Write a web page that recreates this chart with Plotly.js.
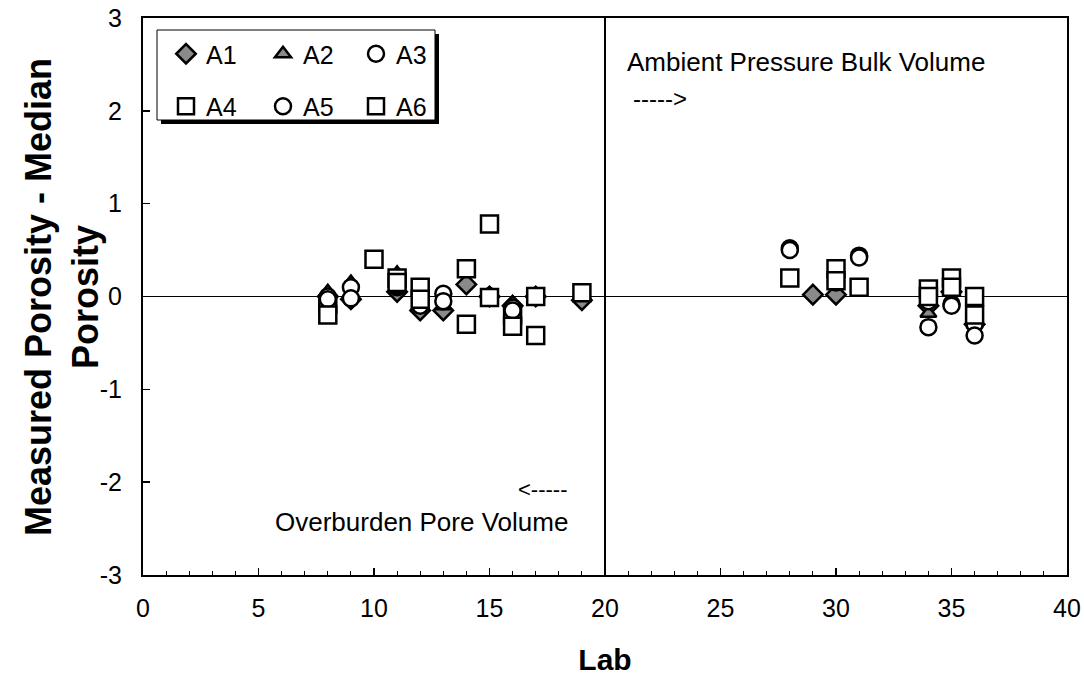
<!DOCTYPE html>
<html>
<head>
<meta charset="utf-8">
<script src="https://cdn.plot.ly/plotly-3.0.1.min.js"></script>
<style>html,body{margin:0;padding:0;background:#fff;}#chart{width:1084px;height:682px;}</style>
</head>
<body>
<div id="chart"></div>
<script>
// Lab numbers
var labs = [8, 9, 10, 11, 12, 13, 14, 15, 16, 17, 19, 28, 29, 30, 31, 34, 35, 36];
// Measured porosity - median porosity for each sample
var a1 = [0.0, -0.03, null, 0.05, -0.15, -0.15, 0.13, 0.0, -0.1, 0.0, -0.04, null, 0.02, 0.02, null, -0.1, 0.05, -0.3];
var a2 = [0.05, 0.15, null, 0.25, -0.1, -0.1, null, 0.02, -0.07, 0.02, null, null, null, 0.15, null, -0.18, 0.05, -0.3];
var a3 = [0.0, 0.1, null, 0.1, -0.05, 0.03, null, 0.0, -0.12, 0.0, null, 0.52, null, 0.17, 0.44, -0.05, -0.08, -0.3];
var a4 = [-0.08, null, 0.4, 0.2, 0.1, null, 0.3, 0.78, -0.2, 0.0, 0.04, 0.2, null, 0.3, 0.1, 0.08, 0.2, 0.0];
var a5 = [-0.03, -0.02, null, 0.12, -0.1, -0.05, null, 0.0, -0.15, null, null, 0.5, null, 0.15, 0.42, -0.33, -0.1, -0.42];
var a6 = [-0.2, null, null, 0.15, -0.03, null, -0.3, -0.01, -0.32, -0.42, null, null, null, 0.17, null, 0.0, 0.1, -0.2];
var seriesNames = ["A1", "A2", "A3", "A4", "A5", "A6"];
var xTicks = [0, 5, 10, 15, 20, 25, 30, 35, 40];
var yTicks = [-3, -2, -1, 0, 1, 2, 3];

var font = "Liberation Sans, Arial, sans-serif";
var styles = {
  A1: {symbol: "diamond", size: 15, fill: "#8a8a8a", legend: "legend", group: "g1"},
  A2: {symbol: "triangle-up", size: 14, fill: "#8a8a8a", legend: "legend2", group: "g2"},
  A3: {symbol: "circle", size: 16, fill: "#ffffff", legend: "legend3", group: "g3"},
  A4: {symbol: "square", size: 17, fill: "#ffffff", legend: "legend", group: "g4"},
  A5: {symbol: "circle", size: 16, fill: "#ffffff", legend: "legend2", group: "g5"},
  A6: {symbol: "square", size: 17, fill: "#ffffff", legend: "legend3", group: "g6"}
};
var values = [a1, a2, a3, a4, a5, a6];
var traces = seriesNames.map(function (n, i) {
  var s = styles[n];
  return {
    x: labs, y: values[i], name: n, type: "scatter", mode: "markers",
    legend: s.legend, legendgroup: s.group,
    marker: {symbol: s.symbol, size: s.size, color: s.fill, line: {color: "#000", width: 2.5}},
    cliponaxis: false
  };
});

function px(x) { return (x - 143) / 924; }
function py(y) { return (575 - y) / 557; }

var legBase = {
  bgcolor: "rgba(0,0,0,0)", borderwidth: 0, orientation: "v",
  font: {family: font, size: 25, color: "#000"}, tracegroupgap: 17,
  xanchor: "left", yanchor: "top", itemwidth: 30
};
function leg(x) { var o = Object.assign({}, legBase); o.x = px(x); o.y = py(31); return o; }

var layout = {
  width: 1084, height: 682,
  margin: {l: 143, r: 17, t: 18, b: 107},
  paper_bgcolor: "#fff", plot_bgcolor: "#fff",
  showlegend: true,
  legend: leg(166),
  legend2: leg(263),
  legend3: leg(356),
  xaxis: {
    range: [0, 40], tickvals: xTicks, ticktext: xTicks.map(String),
    ticks: "inside", ticklen: 7, tickwidth: 1.5, tickcolor: "#000",
    minor: {dtick: 1, ticks: "inside", ticklen: 4, tickwidth: 1, tickcolor: "#000"},
    showgrid: false, zeroline: false, ticklabelstandoff: 10,
    showline: true, linecolor: "#000", linewidth: 2, mirror: true,
    tickfont: {family: font, size: 25, color: "#000"},
    title: {text: "<b>Lab</b>", font: {family: font, size: 30, color: "#000"}, standoff: 28}
  },
  yaxis: {
    range: [-3, 3], tickvals: yTicks, ticktext: yTicks.map(String),
    ticks: "inside", ticklen: 7, tickwidth: 1.5, tickcolor: "#000",
    showgrid: false, zeroline: true, zerolinecolor: "#000", zerolinewidth: 1.5,
    showline: true, linecolor: "#000", linewidth: 2, mirror: true, ticklabelstandoff: 14,
    tickfont: {family: font, size: 25, color: "#000"}
  },
  shapes: [
    {type: "line", xref: "x", yref: "paper", x0: 20, x1: 20, y0: 0, y1: 1, line: {color: "#000", width: 2}},
    {type: "rect", xref: "paper", yref: "paper", x0: px(161), x1: px(439), y0: py(124), y1: py(34),
      fillcolor: "#000", line: {width: 0}, layer: "above"},
    {type: "rect", xref: "paper", yref: "paper", x0: px(157), x1: px(435), y0: py(120), y1: py(30),
      fillcolor: "#fff", line: {color: "#000", width: 1}, layer: "above"}
  ],
  annotations: [
    {xref: "paper", yref: "paper", x: px(62), y: py(297), xanchor: "center", yanchor: "middle",
      textangle: -90, text: "<b>Measured Porosity - Median<br>Porosity</b>", showarrow: false,
      font: {family: font, size: 36, color: "#000"}},
    {xref: "paper", yref: "paper", x: px(625), y: py(62), xanchor: "left", yanchor: "middle",
      text: "Ambient Pressure Bulk Volume", showarrow: false, font: {family: font, size: 26, color: "#000"}},
    {xref: "paper", yref: "paper", x: px(631), y: py(99), xanchor: "left", yanchor: "middle",
      text: "-----&gt;", showarrow: false, font: {family: font, size: 24, color: "#000"}},
    {xref: "paper", yref: "paper", x: px(569), y: py(489), xanchor: "right", yanchor: "middle",
      text: "&lt;-----", showarrow: false, font: {family: font, size: 22, color: "#000"}},
    {xref: "paper", yref: "paper", x: px(570), y: py(522), xanchor: "right", yanchor: "middle",
      text: "Overburden Pore Volume", showarrow: false, font: {family: font, size: 26, color: "#000"}}
  ]
};

Plotly.newPlot("chart", traces, layout, {staticPlot: true, displayModeBar: false});
</script>
</body>
</html>
